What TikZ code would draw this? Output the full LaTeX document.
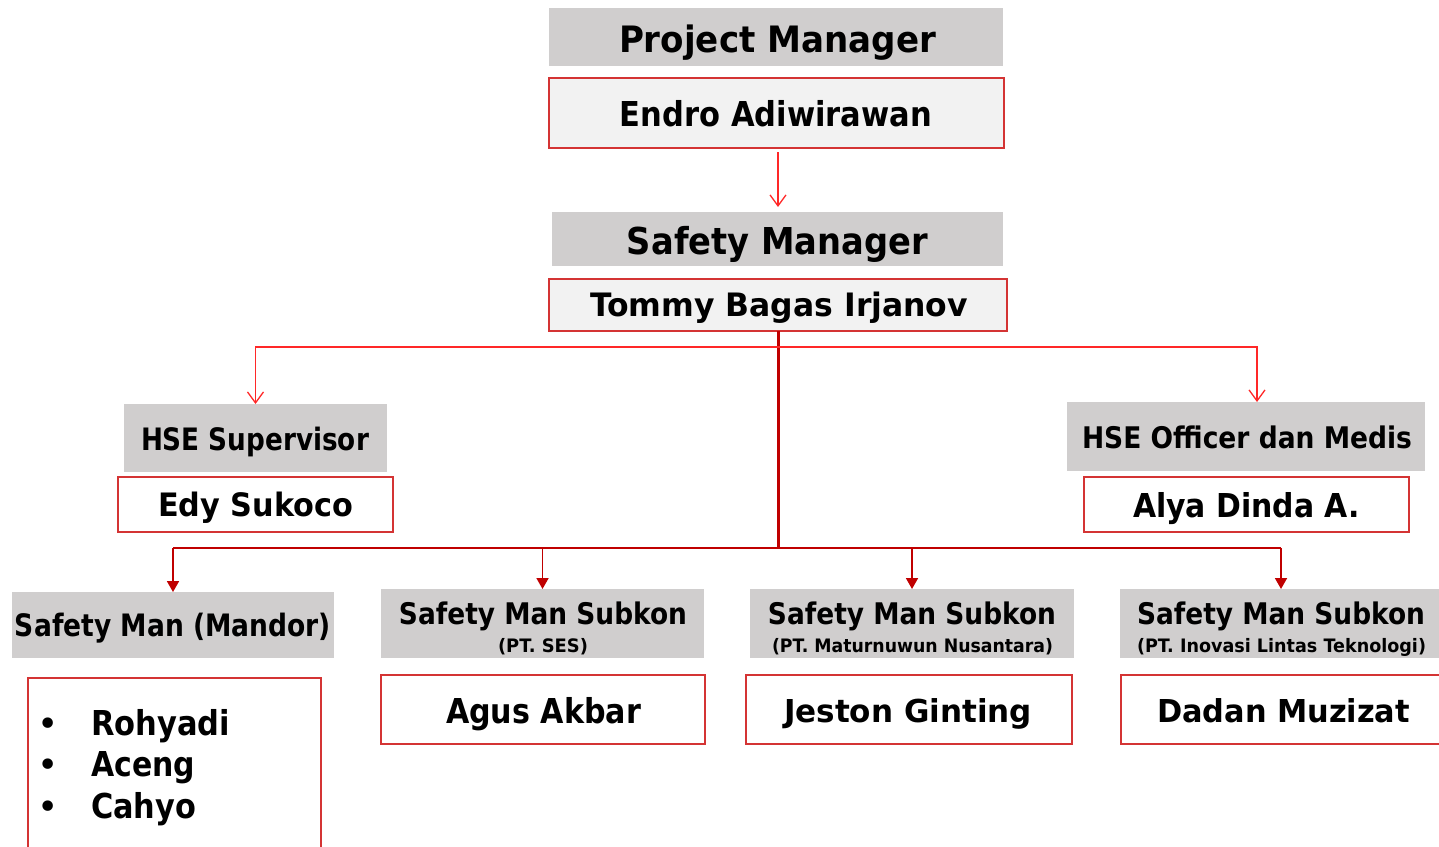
\documentclass[tikz,border=0pt]{standalone}
\usepackage{fontspec}
\setmainfont{DejaVu Sans}
\usepackage{graphicx}
\usetikzlibrary{arrows.meta}

\definecolor{headgray}{RGB}{208,206,206}
\definecolor{palefill}{RGB}{242,242,242}
\definecolor{boxred}{RGB}{212,52,52}
\definecolor{linkred}{RGB}{255,40,40}
\definecolor{darkred}{RGB}{192,0,0}

% squeeze or stretch a label to a given width, keeping its height
\newcommand\fitw[2]{\resizebox{#1pt}{\height}{#2}}

\tikzset{
  head/.style={fill=headgray, inner sep=0, outer sep=0},
  namebox/.style={draw=boxred, line width=1.4pt, fill=white, inner sep=0, outer sep=0},
  lbl/.style={inner sep=0, text height=#1pt, text depth=0pt,
    font=\bfseries\fontsize{\fpeval{#1/0.729}}{\fpeval{#1/0.729}}\selectfont},
  bullet/.style={inner sep=0, font=\fontsize{36}{36}\selectfont},
  openlink/.style={draw=linkred, line width=1.3pt,
    -{Straight Barb[length=11pt,width=16pt,line width=1.3pt]}},
  trunk/.style={draw=darkred, line width=3pt},
  buslink/.style={draw=darkred, line width=1.8pt,
    -{Triangle[length=11pt,width=12pt]}},
  busline/.style={draw=darkred, line width=2pt}
}

\begin{document}
\begin{tikzpicture}[x=1pt,y=-1pt]
\useasboundingbox (0,0) rectangle (1439,846);

% ---------- management ----------
\node[head, minimum width=454pt, minimum height=58pt] (pm) at (776,37) {};
\node[lbl=26.5] (pm-t) at (777.5,39) {\fitw{317}{Project Manager}};
\node[namebox, fill=palefill, minimum width=455pt, minimum height=70pt] (endro) at (776.5,113) {};
\node[lbl=25] (endro-t) at (776,114) {\fitw{312}{Endro Adiwirawan}};

\node[head, minimum width=451pt, minimum height=54pt] (sm) at (777.5,239) {};
\node[lbl=27] (sm-t) at (777.5,241) {\fitw{301}{Safety Manager}};
\node[namebox, fill=palefill, minimum width=458pt, minimum height=52pt] (tommy) at (778,305) {};
\node[lbl=23.5] (tommy-t) at (779,305) {\fitw{378}{Tommy Bagas Irjanov}};

% ---------- staff ----------
\node[head, minimum width=263pt, minimum height=68pt] (hses) at (255.5,438) {};
\node[lbl=22.5] (hses-t) at (255,439.5) {\fitw{228}{HSE Supervisor}};
\node[namebox, minimum width=275pt, minimum height=55pt] (edy) at (255.5,504.5) {};
\node[lbl=23.5] (edy-t) at (255.5,505) {\fitw{195}{Edy Sukoco}};

\node[head, minimum width=358pt, minimum height=69pt] (hseo) at (1246,436.5) {};
\node[lbl=21.7] (hseo-t) at (1247,437.5) {\fitw{330}{HSE Officer dan Medis}};
\node[namebox, minimum width=325pt, minimum height=55pt] (alya) at (1246.5,504.5) {};
\node[lbl=24] (alya-t) at (1246.5,505.5) {\fitw{227}{Alya Dinda A.}};

% ---------- safety men ----------
\node[head, minimum width=322pt, minimum height=66pt] (mandor) at (173,625) {};
\node[lbl=22.5] (mandor-t) at (173,625) {\fitw{316}{Safety Man (Mandor)}};
\node[namebox, minimum width=293pt, minimum height=222pt] (mlist) at (174.5,789) {};
\node[bullet] (b1) at (48,727) {•};
\node[bullet] (b2) at (48,768.5) {•};
\node[bullet] (b3) at (48,810) {•};
\node[lbl=25, anchor=base west] (m1) at (91,735) {\fitw{139}{Rohyadi}};
\node[lbl=25, anchor=base west] (m2) at (91,776.5) {\fitw{104}{Aceng}};
\node[lbl=25, anchor=base west] (m3) at (91,818) {\fitw{105}{Cahyo}};

\node[head, minimum width=323pt, minimum height=69pt] (ses) at (542.5,623.5) {};
\node[lbl=21.7] (ses-t) at (543,614) {\fitw{288}{Safety Man Subkon}};
\node[lbl=13.5] (ses-s) at (543,645.5) {\fitw{90}{(PT. SES)}};
\node[namebox, minimum width=324pt, minimum height=69pt] (agus) at (543,709.5) {};
\node[lbl=25] (agus-t) at (543.5,710.5) {\fitw{195}{Agus Akbar}};

\node[head, minimum width=324pt, minimum height=69pt] (matur) at (912,623.5) {};
\node[lbl=21.7] (matur-t) at (912,614) {\fitw{288}{Safety Man Subkon}};
\node[lbl=13.5] (matur-s) at (912.5,645.5) {\fitw{281}{(PT. Maturnuwun Nusantara)}};
\node[namebox, minimum width=326pt, minimum height=69pt] (jeston) at (909,709.5) {};
\node[lbl=23] (jeston-t) at (908,711) {\fitw{248}{Jeston Ginting}};

\node[head, minimum width=322pt, minimum height=69pt] (inov) at (1281,623.5) {};
\node[lbl=21.7] (inov-t) at (1281,614) {\fitw{288}{Safety Man Subkon}};
\node[lbl=13.5] (inov-s) at (1281.5,645.5) {\fitw{289}{(PT. Inovasi Lintas Teknologi)}};
\node[namebox, minimum width=320pt, minimum height=69pt] (dadan) at (1281,709.5) {};
\node[lbl=23] (dadan-t) at (1283.5,711) {\fitw{253}{Dadan Muzizat}};

% ---------- connectors ----------
\draw[openlink, shorten <=4pt, shorten >=5pt] (endro.south -| tommy.north) -- (sm.north -| tommy.north);

\coordinate (split) at (778,347);
\coordinate (bus) at (778,548);
\draw[trunk] (tommy.south) -- (bus);
\draw[openlink] (split) -| (hses.north);
\draw[openlink] (split) -| ([xshift=11pt]hseo.north);

\draw[busline] (bus) -- (bus -| mandor.north);
\draw[busline] (bus) -- (bus -| inov.north);
\draw[buslink] (bus -| mandor.north) -- (mandor.north);
\draw[buslink] (bus -| ses.north) -- (ses.north);
\draw[buslink] (bus -| matur.north) -- (matur.north);
\draw[buslink] (bus -| inov.north) -- (inov.north);
\end{tikzpicture}
\end{document}
